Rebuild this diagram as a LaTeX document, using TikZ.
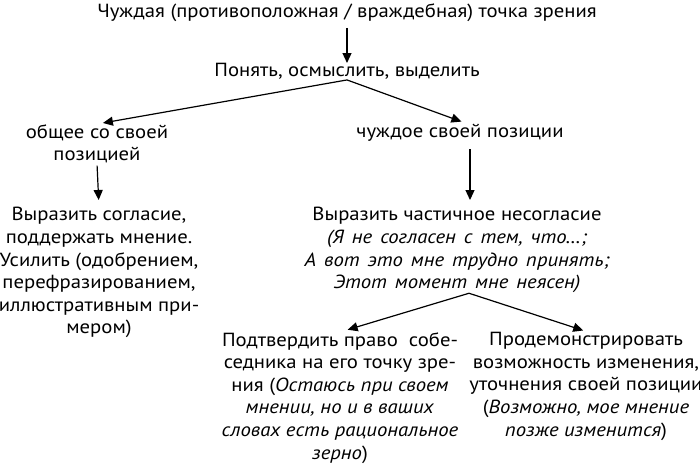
\documentclass[tikz,border=0pt]{standalone}
\usepackage{fontspec}
\setmainfont{PT Sans}[FakeStretch=1.09]
\usetikzlibrary{arrows.meta}
\def\loosetext#1{{\itshape\spaceskip=0.42em\relax #1}}
\tikzset{
  blk/.style={align=center, inner sep=0pt, anchor=north, font=\fontsize{9.5pt}{11.3pt}\selectfont},
  arr/.style={-{Triangle[length=5pt,width=4.5pt]}, line width=0.6pt},
}
\begin{document}
\begin{tikzpicture}[x=0.5pt, y=-0.5pt]
			%%%%% START %%%%%
			
			\useasboundingbox (0, 0) rectangle (700, 463);
			
			\node[blk] (top) at (347, 3) {Чуждая (противоположная / враждебная) точка зрения};
			\node[blk] (grasp) at (347, 63) {Понять, осмыслить, выделить};
			
			\node[blk] (common) at (97, 124) {общее со своей\\позицией};
			\node[blk] (alien) at (460, 124) {чуждое своей позиции};
			
			\node[blk] (agree) at (99, 207) {Выразить согласие,\\поддержать мнение.\\Усилить (одобрением,\\перефразированием,\\иллюстративным при-\\мером)};
			\node[blk] (disagree) at (457, 207) {Выразить частичное несогласие\\\loosetext{(Я не согласен с тем, что…;}\\\loosetext{А вот это мне трудно принять;}\\\loosetext{Этот момент мне неясен)}};
			
			\node[blk] (confirm) at (340, 332) {Подтвердить право \ собе-\\седника на его точку зре-\\ния (\textit{Остаюсь при своем}\\\textit{мнении, но и в ваших}\\\textit{словах есть рациональное}\\\textit{зерно})};
			\node[blk] (demo) at (586, 332) {Продемонстрировать\\возможность изменения,\\уточнения своей позиции\\(\textit{Возможно, мое мнение}\\\textit{позже изменится})};
			
			\draw[arr, shorten <=3pt] (top.south) -- (grasp.north);
			\draw[arr, shorten >=3pt] (grasp.south) -- (common.north);
			\draw[arr, shorten >=3.5pt] (grasp.south) -- ([xshift=4pt]alien.north);
			\draw[arr, shorten <=1pt, shorten >=3.5pt] (common.south) -- (agree.north);
			\draw[arr, shorten <=3.5pt, shorten >=3.5pt] ([xshift=5pt]alien.south) -- ([xshift=6.5pt]disagree.north);
			\draw[arr, shorten >=4pt] ([xshift=6pt]disagree.south) -- (confirm.north);
			\draw[arr, shorten >=2.5pt] ([xshift=6pt]disagree.south) -- ([xshift=1pt]demo.north);
			
			%%%%% END %%%%%
		\end{tikzpicture}
\end{document}
